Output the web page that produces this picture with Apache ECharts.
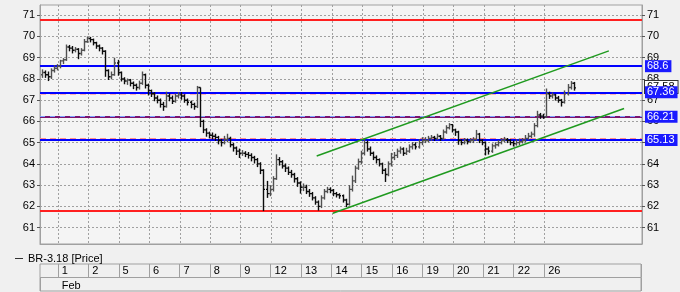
<!DOCTYPE html>
<html><head><meta charset="utf-8">
<script src="https://cdn.jsdelivr.net/npm/echarts@6/dist/echarts.min.js"></script>
<style>html,body{margin:0;padding:0;background:#f0f0f0}#c{width:680px;height:292px}</style>
</head><body><div id="c"></div>
<script>
// ---- data ----
const seriesName = 'BR-3.18 [Price]';
const monthLabel = 'Feb';
const dayLabels = ['1','2','5','6','7','8','9','12','13','14','15','16','19','20','21','22','26'];
const preDayBars = 6;      // bars of the previous session before Feb 1
const barsPerDay = 10;
const totalSlots = 198;    // includes empty future slots on the right
// [open, close, low, high]
const ohlc = [
 [68.2,68.3,68.05,68.45],[68.3,68.2,68.05,68.4],[68.2,68.1,67.9,68.35],[68.1,68.4,68.0,68.5],[68.4,68.5,68.3,68.65],[68.5,68.6,68.4,68.7],
 [68.6,68.85,68.5,68.9],[68.85,68.9,68.7,68.98],[68.9,69.5,68.85,69.62],[69.5,69.45,69.3,69.6],[69.45,69.35,69.2,69.55],[69.35,69.4,69.25,69.5],[69.4,69.2,68.93,69.45],[69.2,69.35,69.1,69.45],[69.35,69.75,69.3,69.88],[69.75,69.9,69.7,70.0],
 [69.9,69.85,69.72,69.98],[69.85,69.7,69.58,69.9],[69.7,69.55,69.42,69.75],[69.55,69.45,69.3,69.62],[69.45,69.3,69.15,69.5],[69.3,68.4,68.1,69.35],[68.4,68.1,67.95,68.45],[68.1,68.2,67.98,68.35],[68.2,68.75,68.15,69.0],[68.75,68.3,68.15,68.9],
 [68.3,68.0,67.88,68.35],[68.0,67.9,67.75,68.08],[67.9,67.95,67.72,68.02],[67.95,67.8,67.65,68.0],[67.8,67.7,67.52,67.88],[67.7,67.6,67.45,67.78],[67.6,67.8,67.5,67.92],[67.8,68.2,67.72,68.35],[68.2,67.7,67.55,68.25],[67.7,67.45,67.22,67.78],
 [67.45,67.3,67.15,67.5],[67.3,67.1,66.95,67.38],[67.1,67.0,66.85,67.22],[67.0,66.8,66.65,67.08],[66.8,66.7,66.5,66.92],[66.7,67.2,66.65,67.4],[67.2,67.1,66.95,67.32],[67.1,66.95,66.82,67.22],[66.95,67.2,66.88,67.32],[67.2,67.25,67.08,67.38],
 [67.25,67.2,67.02,67.38],[67.2,67.0,66.88,67.28],[67.0,66.9,66.75,67.08],[66.9,66.8,66.62,66.98],[66.8,66.7,66.55,66.88],[66.7,67.6,66.63,67.67],[67.6,66.0,65.73,67.6],[66.0,65.6,65.45,66.08],[65.6,65.45,65.28,65.68],[65.45,65.35,65.2,65.52],
 [65.35,65.3,65.15,65.48],[65.3,65.25,65.08,65.42],[65.25,65.1,64.92,65.32],[65.1,65.0,64.82,65.18],[65.0,65.15,64.92,65.32],[65.15,65.2,65.02,65.42],[65.2,64.9,64.78,65.28],[64.9,64.75,64.58,64.98],[64.75,64.6,64.42,64.82],[64.6,64.5,64.28,64.72],
 [64.5,64.5,64.38,64.65],[64.5,64.45,64.32,64.6],[64.45,64.4,64.25,64.56],[64.4,64.3,64.12,64.5],[64.3,64.2,64.02,64.38],[64.2,64.0,63.85,64.28],[64.0,63.7,63.52,64.08],[63.7,62.8,61.78,63.75],[62.8,62.6,62.4,63.2],[62.6,62.8,62.48,63.0],
 [62.8,63.3,62.7,63.42],[63.3,64.2,63.25,64.45],[64.2,64.1,63.92,64.32],[64.1,63.9,63.78,64.18],[63.9,63.8,63.62,64.02],[63.8,63.6,63.48,63.88],[63.6,63.5,63.35,63.72],[63.5,63.3,63.12,63.58],[63.3,63.1,62.92,63.38],[63.1,62.9,62.6,63.18],
 [62.9,62.9,62.72,63.08],[62.9,62.7,62.58,63.02],[62.7,62.6,62.45,62.82],[62.6,62.4,62.28,62.68],[62.4,62.2,62.08,62.48],[62.2,62.0,61.8,62.28],[62.0,62.4,61.92,62.52],[62.4,62.7,62.32,62.82],[62.7,62.8,62.62,62.92],[62.8,62.75,62.62,62.9],
 [62.75,62.6,62.48,62.82],[62.6,62.55,62.42,62.68],[62.55,62.5,62.36,62.62],[62.5,62.3,62.18,62.56],[62.3,62.1,61.97,62.36],[62.1,62.8,62.04,63.0],[62.8,63.2,62.7,63.45],[63.2,63.8,63.1,63.92],[63.8,64.1,63.72,64.25],[64.1,64.5,64.0,64.62],
 [64.5,65.0,64.4,65.2],[65.0,64.7,64.58,65.1],[64.7,64.5,64.38,64.82],[64.5,64.3,64.18,64.58],[64.3,64.2,64.02,64.4],[64.2,64.0,63.88,64.26],[64.0,63.7,63.52,64.06],[63.7,63.5,63.15,63.8],[63.5,64.0,63.42,64.12],[64.0,64.3,63.88,64.52],
 [64.3,64.4,64.18,64.56],[64.4,64.6,64.28,64.72],[64.6,64.7,64.48,64.82],[64.7,64.5,64.38,64.78],[64.5,64.6,64.42,64.76],[64.6,64.8,64.52,64.92],[64.8,64.9,64.68,65.02],[64.9,64.8,64.68,65.02],[64.8,65.0,64.72,65.16],[65.0,65.1,64.88,65.26],
 [65.1,65.1,64.98,65.26],[65.1,65.2,65.02,65.32],[65.2,65.25,65.08,65.36],[65.25,65.2,65.08,65.32],[65.2,65.3,65.12,65.42],[65.3,65.2,65.08,65.36],[65.2,65.5,65.12,65.62],[65.5,65.7,65.42,65.82],[65.7,65.85,65.62,65.92],[65.85,65.6,65.48,65.88],
 [65.6,65.5,65.32,65.66],[65.5,65.1,64.9,65.56],[65.1,65.0,64.88,65.16],[65.0,65.1,64.92,65.22],[65.1,65.05,64.92,65.2],[65.05,65.1,64.98,65.22],[65.1,65.15,64.98,65.26],[65.15,65.4,65.08,65.6],[65.4,65.1,64.98,65.46],[65.1,65.0,64.88,65.16],
 [65.0,64.7,64.4,65.06],[64.7,64.6,64.44,64.82],[64.6,64.85,64.52,64.96],[64.85,64.9,64.72,65.02],[64.9,65.0,64.82,65.12],[65.0,65.1,64.92,65.22],[65.1,65.15,65.02,65.27],[65.15,65.1,64.98,65.22],[65.1,65.0,64.88,65.16],[65.0,64.95,64.82,65.1],
 [64.95,65.0,64.86,65.16],[65.0,65.05,64.88,65.2],[65.05,65.1,64.96,65.22],[65.1,65.2,65.02,65.36],[65.2,65.3,65.12,65.46],[65.3,65.4,65.22,65.52],[65.4,65.8,65.28,65.92],[65.8,66.3,65.72,66.5],[66.3,66.25,66.12,66.4],[66.25,66.2,66.12,66.36],
 [66.2,67.3,66.18,67.55],[67.3,67.2,67.06,67.4],[67.2,67.25,67.08,67.36],[67.25,67.1,66.98,67.3],[67.1,67.0,66.88,67.2],[67.0,66.9,66.7,67.06],[66.9,67.3,66.84,67.46],[67.3,67.6,67.22,67.76],[67.6,67.8,67.5,67.9],[67.8,67.58,67.45,67.86]
];
const yTicks = [61,62,63,64,65,66,67,68,69,70,71];
const yMin = 60.23, yMax = 71.48;
const redLevels = [70.77, 61.78];
const pinkDashedLevels = [68.63, 67.29, 65.19];
const purpleLevel = 66.22;
const blueLevels = [68.6, 67.37, 65.12];
const blueLabels = ['68.6', '67.36', '65.13'];
const purpleLabel = '66.21';
const lastPrice = 67.62;
const lastPriceLabel = '67.58';
// channel trend lines: [slot position, price]
const upperChannel = [[91.0, 64.37], [187.1, 69.32]];
const lowerChannel = [[96.3, 61.68], [192.1, 66.61]];

// ---- build ----
const categories = [];
const dayStart = new Set();
for (let i = 0; i < totalSlots; i++) {
  if (i < preDayBars) { categories.push('pre#' + i); continue; }
  const d = Math.floor((i - preDayBars) / barsPerDay);
  const k = (i - preDayBars) % barsPerDay;
  if (d < dayLabels.length) {
    categories.push(dayLabels[d] + '#' + k);
    if (k === 0) dayStart.add(i);
  } else categories.push('empty#' + i);
}
const febStart = preDayBars;
const barData = ohlc.map((r, i) => [i, r[0], r[1], r[2], r[3]]);

const FONT = 'Liberation Sans, Arial, sans-serif';
const grey = '#a0a0a0';
const boxLabel = (txt, bg, fg, border) => ({
  show: true, position: 'end', distance: 3, formatter: txt,
  backgroundColor: bg, color: fg, padding: [1, 3, 0, 2], fontSize: 11, fontFamily: FONT,
  borderColor: border || bg, borderWidth: border ? 1 : 0
});

const markData = [];
redLevels.forEach(v => markData.push({ yAxis: v, lineStyle: { color: '#ff2020', width: 2, type: 'solid' }, label: { show: false } }));
markData.push({ yAxis: lastPrice, lineStyle: { color: 'rgba(0,0,0,0)', width: 1 }, label: boxLabel(lastPriceLabel, '#ffffff', '#000', '#333') });
pinkDashedLevels.forEach((v, i) => markData.push({ yAxis: v, lineStyle: { color: i === 1 ? '#ffb0b0' : '#ff8c8c', width: 2, type: [6, 4] }, label: { show: false } }));
blueLevels.forEach((v, i) => markData.push({ yAxis: v, lineStyle: { color: '#0000ff', width: 2, type: 'solid' }, label: boxLabel(blueLabels[i], '#1a1aff', '#fff') }));
markData.push({ yAxis: purpleLevel, lineStyle: { color: '#7a1470', width: 2, type: 'solid' }, label: boxLabel(purpleLabel, '#1a1aff', '#fff') });
markData.push({ yAxis: purpleLevel, lineStyle: { color: '#7f9fff', width: 1, type: [5, 5] }, label: { show: false } });

const chart = echarts.init(document.getElementById('c'), null, { renderer: 'canvas' });
chart.setOption({
  backgroundColor: '#f0f0f0',
  animation: false,
  textStyle: { fontFamily: FONT },
  legend: {
    left: 10, top: 248, itemWidth: 8, itemHeight: 1, itemGap: 10,
    textStyle: { fontSize: 11, color: '#000', fontFamily: FONT },
    data: [{ name: seriesName, icon: 'rect', itemStyle: { color: '#333' } }]
  },
  grid: [
    { left: 40, right: 38, top: 5, bottom: 48, show: true, backgroundColor: '#f4f4f4', borderColor: grey, borderWidth: 1 },
    { left: 40, right: 39, top: 264, height: 13.5, show: true, backgroundColor: '#f0f0f0', borderColor: grey, borderWidth: 1 },
    { left: 40, right: 39, top: 277.5, height: 13.5, show: true, backgroundColor: '#f0f0f0', borderColor: grey, borderWidth: 1 }
  ],
  xAxis: [
    { type: 'category', gridIndex: 0, data: categories, boundaryGap: true,
      axisLine: { show: true, lineStyle: { color: grey } }, axisTick: { show: false },
      axisLabel: { interval: (i) => dayStart.has(i), formatter: v => v.split('#')[0], align: 'left', margin: 21,
        padding: [0, 0, 0, 2], fontSize: 11, color: '#000', fontFamily: FONT, hideOverlap: false },
      splitLine: { show: true, interval: (i) => dayStart.has(i), lineStyle: { color: grey, type: [2, 2], width: 1 } } },
    { type: 'category', gridIndex: 1, data: categories, boundaryGap: true,
      axisLine: { show: false }, axisTick: { show: false },
      axisLabel: { interval: (i) => i === febStart, formatter: () => monthLabel, align: 'left', margin: 3,
        padding: [0, 0, 0, 2], fontSize: 11, color: '#000', fontFamily: FONT },
      splitLine: { show: true, interval: (i) => dayStart.has(i), lineStyle: { color: grey, type: 'solid', width: 1 } } },
    { type: 'category', gridIndex: 2, data: categories, boundaryGap: true,
      axisLine: { show: false }, axisTick: { show: false }, axisLabel: { show: false },
      splitLine: { show: true, interval: (i) => i === febStart, lineStyle: { color: grey, type: 'solid', width: 1 } } },
    { type: 'value', gridIndex: 0, min: 0, max: totalSlots, show: false }
  ],
  yAxis: [
    { type: 'value', gridIndex: 0, position: 'left', min: yMin, max: yMax,
      axisLine: { show: true, lineStyle: { color: grey } },
      axisTick: { show: true, length: 3, customValues: yTicks, lineStyle: { color: '#555' } },
      axisLabel: { customValues: yTicks, margin: 5, fontSize: 11, color: '#000', fontFamily: FONT },
      splitLine: { show: true, lineStyle: { color: grey, type: [2, 2] } } },
    { type: 'value', gridIndex: 0, position: 'right', min: yMin, max: yMax,
      axisLine: { show: true, lineStyle: { color: grey } },
      axisTick: { show: true, length: 3, customValues: yTicks, lineStyle: { color: '#555' } },
      axisLabel: { customValues: yTicks, margin: 5, fontSize: 11, color: '#000', fontFamily: FONT },
      splitLine: { show: false } },
    { type: 'value', gridIndex: 1, show: false },
    { type: 'value', gridIndex: 2, show: false }
  ],
  series: [
    { name: seriesName, type: 'custom', xAxisIndex: 0, yAxisIndex: 0, data: barData,
      encode: { x: 0, y: [1, 2, 3, 4] }, z: 3,
      renderItem: function (params, api) {
        const i = api.value(0);
        const o = api.coord([i, api.value(1)]);
        const c = api.coord([i, api.value(2)]);
        const l = api.coord([i, api.value(3)]);
        const h = api.coord([i, api.value(4)]);
        const x = Math.round(o[0]) + 0.5;
        const col = api.value(2) >= api.value(1) ? '#505050' : '#0c0c0c';
        const st = { stroke: col, lineWidth: 1.4 };
        return { type: 'group', children: [
          { type: 'line', shape: { x1: x, y1: h[1], x2: x, y2: l[1] }, style: st },
          { type: 'line', shape: { x1: x - 1.5, y1: o[1], x2: x, y2: o[1] }, style: st },
          { type: 'line', shape: { x1: x, y1: c[1], x2: x + 1.5, y2: c[1] }, style: st }
        ] };
      },
      markLine: { silent: true, symbol: 'none', animation: false, z: 2, data: markData }
    },
    { type: 'line', xAxisIndex: 3, yAxisIndex: 0, data: upperChannel, symbol: 'none', z: 4,
      lineStyle: { color: '#1f9a1f', width: 1.5 } },
    { type: 'line', xAxisIndex: 3, yAxisIndex: 0, data: lowerChannel, symbol: 'none', z: 4,
      lineStyle: { color: '#1f9a1f', width: 1.5 } }
  ]
});
</script></body></html>
